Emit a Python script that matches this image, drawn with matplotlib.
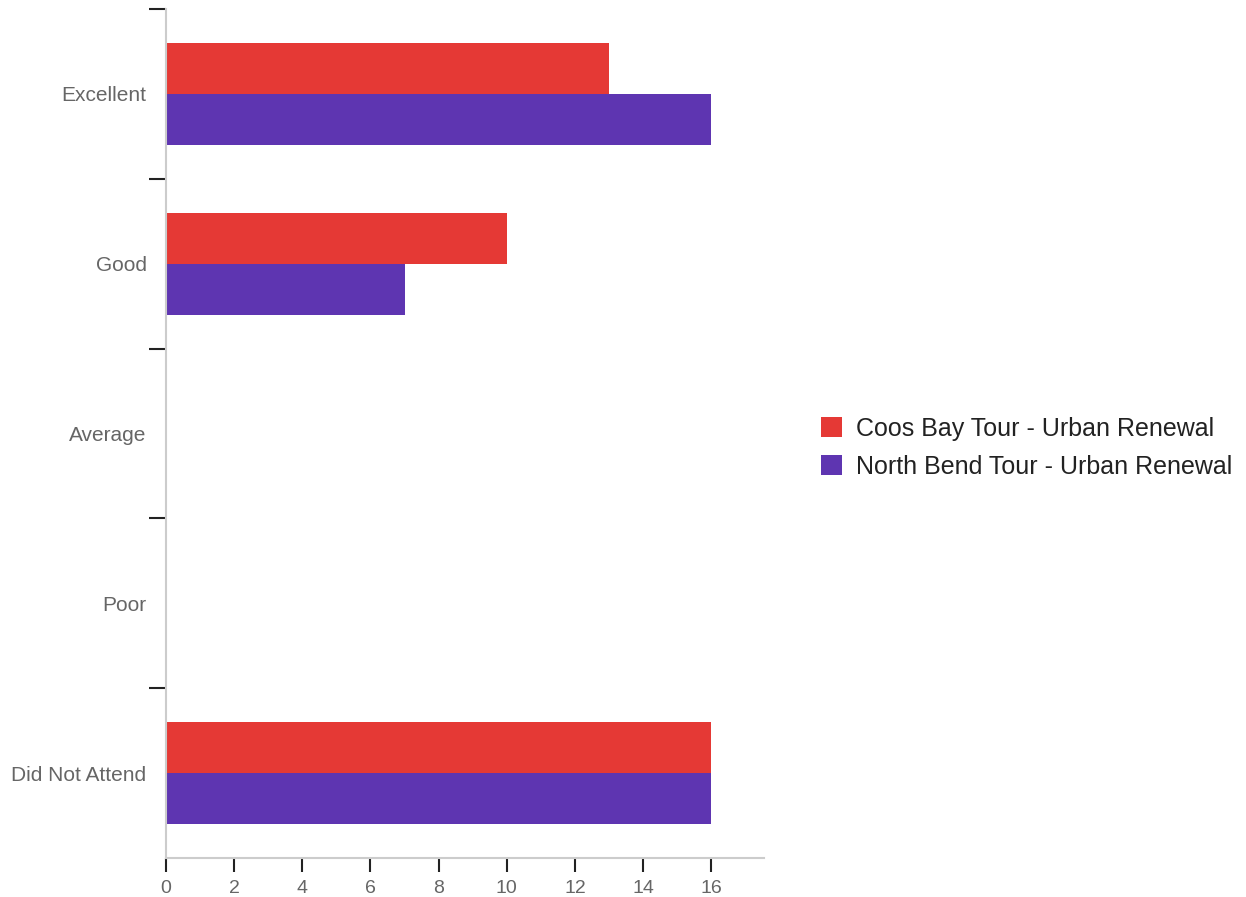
import matplotlib.pyplot as plt
import numpy as np

plt.rcParams['font.family'] = ['Liberation Sans Narrow', 'Liberation Sans', 'DejaVu Sans']

categories = ['Excellent', 'Good', 'Average', 'Poor', 'Did Not Attend']
coos_bay = [13, 10, 0, 0, 16]
north_bend = [16, 7, 0, 0, 16]
series_names = ['Coos Bay Tour - Urban Renewal', 'North Bend Tour - Urban Renewal']
colors = ['#e53935', '#5e35b1']

fig = plt.figure(figsize=(12.46, 8.97), dpi=100)
ax = fig.add_axes([166 / 1246, 1 - 858 / 897, (764 - 166) / 1246, (858 - 9) / 897])

y = np.arange(len(categories))
h = 0.3
ax.barh(y - h / 2, coos_bay, height=h, color=colors[0], label=series_names[0])
ax.barh(y + h / 2, north_bend, height=h, color=colors[1], label=series_names[1])

ax.set_ylim(len(categories) - 0.5, -0.5)
ax.set_xlim(0, 17.55)
ax.set_xticks(range(0, 17, 2))

# category labels in the middle of each band, ticks on band edges
ax.set_yticks(np.arange(-0.5, len(categories) - 0.5, 1))
ax.set_yticklabels([])
ax.set_yticks(y, minor=True)
ax.set_yticklabels(categories, minor=True)
ax.tick_params(axis='y', which='minor', length=0, pad=14, labelsize=15, labelcolor='#666666')
ax.tick_params(axis='y', which='major', length=12, width=1.5, color='#222222')
ax.tick_params(axis='x', length=10, width=1.5, color='#222222', labelsize=14,
               labelcolor='#666666', pad=6)

for s in ['top', 'right']:
    ax.spines[s].set_visible(False)
for s in ['left', 'bottom']:
    ax.spines[s].set_color('#cccccc')
    ax.spines[s].set_linewidth(1.5)

leg = fig.legend(loc='center left', bbox_to_anchor=(798 / 1246, 1 - 448 / 897),
                 frameon=False, fontsize=18, handlelength=0.85, handleheight=0.85,
                 handletextpad=0.55, labelspacing=0.55)
for t in leg.get_texts():
    t.set_color('#222222')

fig.savefig('out.png', dpi=100)
